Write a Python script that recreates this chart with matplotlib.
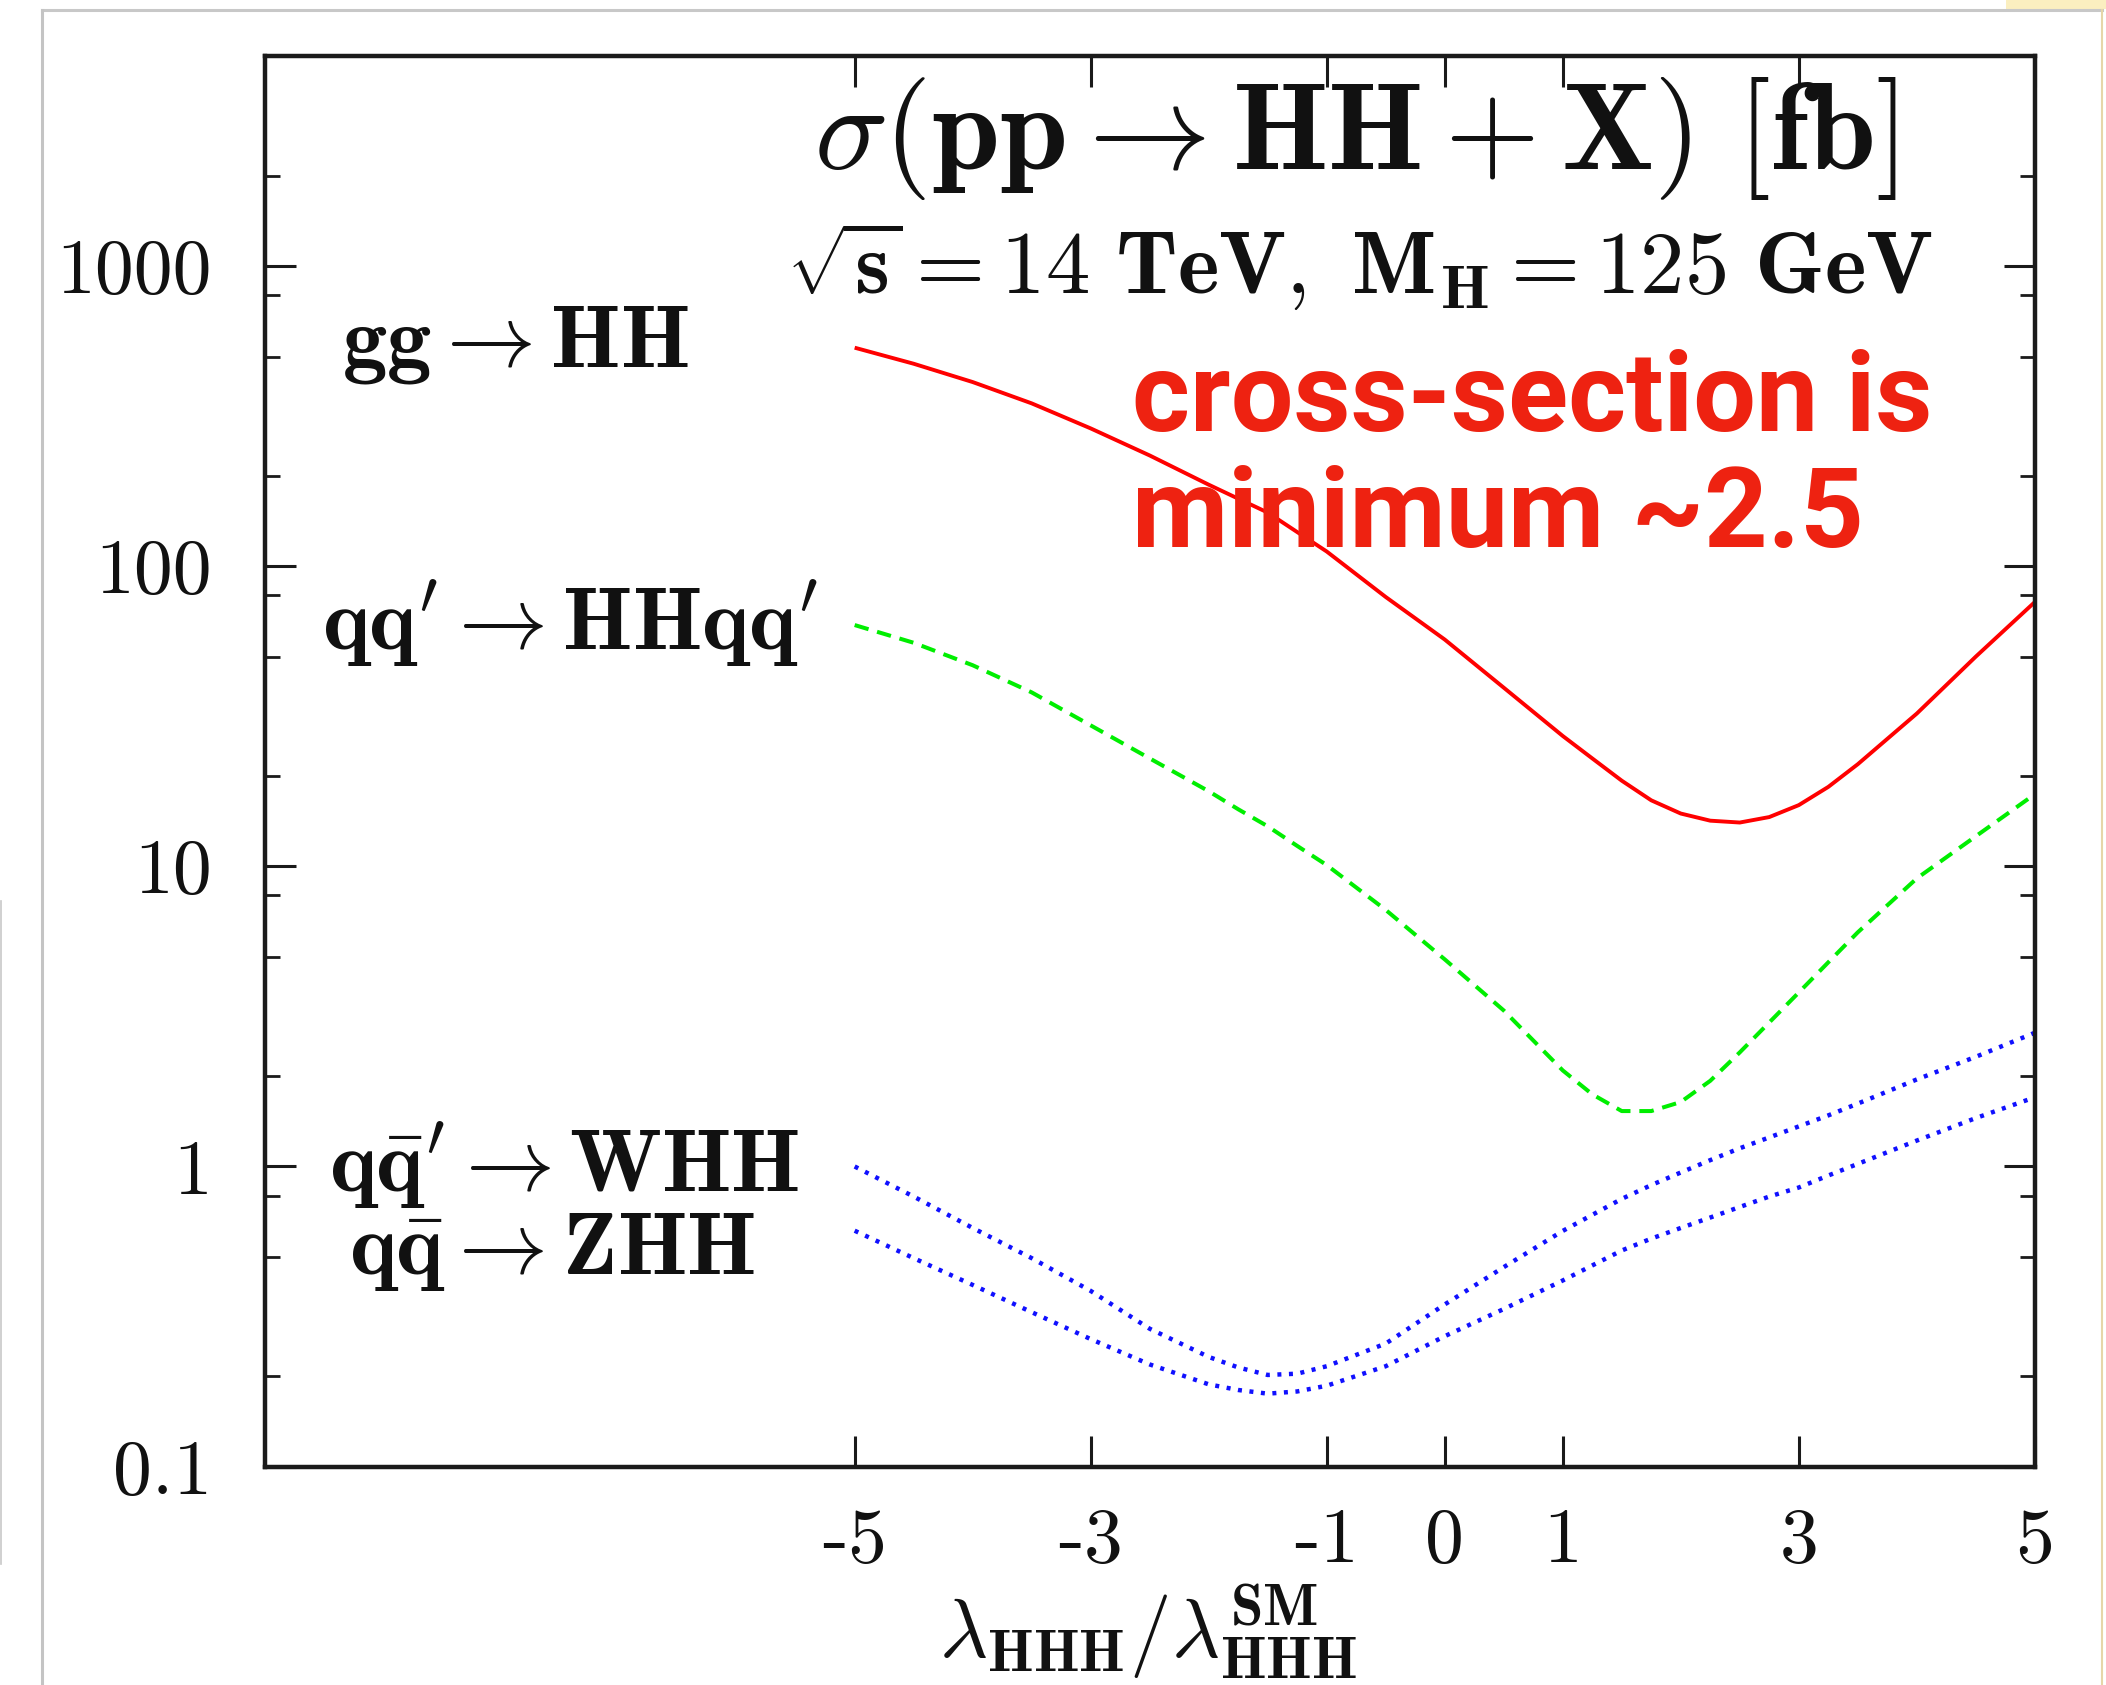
import matplotlib
matplotlib.use("Agg")
import matplotlib.pyplot as plt
from matplotlib.ticker import FixedLocator, NullFormatter
from matplotlib.lines import Line2D

plt.rcParams['mathtext.fontset'] = 'cm'

# ---- data ----
lam = [-5.0, -4.5, -4.0, -3.5, -3.0, -2.5, -2.0, -1.75, -1.5, -1.25, -1.0, -0.5, 0.0,
       0.5, 1.0, 1.25, 1.5, 1.75, 2.0, 2.25, 2.5, 2.75, 3.0, 3.25, 3.5, 4.0, 4.5, 5.0]
sigma_gg = [535, 473, 411, 349, 288, 234, 187, 168, 151, 130, 112, 79, 57,
            39.4, 27.2, 22.9, 19.3, 16.6, 15.0, 14.2, 14.0, 14.6, 16.0, 18.4, 21.9, 32.3, 50, 76]
sigma_vbf = [63.7, 55.6, 46.8, 38.0, 29.5, 22.9, 17.8, 15.5, 13.6, 11.7, 10.1, 7.16, 4.90,
             3.31, 2.09, 1.74, 1.53, 1.53, 1.64, 1.93, 2.40, 3.02, 3.80, 4.79, 6.03, 9.12, 12.6, 17.4]
sigma_whh = [1.0, 0.794, 0.624, 0.495, 0.385, 0.288, 0.232, 0.214, 0.202, 0.204, 0.216, 0.257, 0.347,
             0.462, 0.610, 0.69, 0.780, 0.867, 0.955, 1.05, 1.15, 1.25, 1.36, 1.48, 1.62, 1.95, 2.32, 2.79]
sigma_zhh = [0.611, 0.495, 0.403, 0.327, 0.266, 0.219, 0.188, 0.180, 0.175, 0.178, 0.186, 0.216, 0.272,
             0.335, 0.417, 0.468, 0.525, 0.575, 0.624, 0.676, 0.733, 0.794, 0.851, 0.933, 1.02, 1.22, 1.45, 1.70]

xticks = [-5, -3, -1, 0, 1, 3, 5]
xtick_labels = ['-5', '-3', '-1', '0', '1', '3', '5']
yticks = [0.1, 1, 10, 100, 1000]
ytick_labels = ['0.1', '1', '10', '100', '1000']

W, H = 2106, 1685
fig = plt.figure(figsize=(W / 100, H / 100), dpi=100)
fig.patch.set_facecolor('white')


def fx(x):
    return x / W


def fy(y):
    return 1 - y / H


# screenshot frame artefacts
fig.add_artist(Line2D([fx(42), fx(2102)], [fy(10), fy(10)], color='#c8c8c8', lw=2.2))
fig.add_artist(Line2D([fx(42), fx(42)], [fy(10), fy(1685)], color='#c4c4c4', lw=2.2))
fig.add_artist(Line2D([fx(2102), fx(2102)], [fy(10), fy(1685)], color='#e6d6a8', lw=1.5))
fig.add_artist(Line2D([fx(1), fx(1)], [fy(901), fy(1564)], color='#c8c8c8', lw=1.2))
fig.patches.append(plt.Rectangle((fx(2006), fy(9)), fx(100), 9 / H, transform=fig.transFigure,
                                 facecolor='#fbefc0', edgecolor='none', zorder=0))

ax = fig.add_axes([264.6 / W, 1 - 1466.6 / H, (2034.8 - 264.6) / W, (1466.6 - 56.4) / H])
ax.set_yscale('log')
ax.set_xlim(-10, 5)
ax.set_ylim(0.1, 5000)

ax.plot(lam, sigma_gg, color='#ff0000', lw=2.8, solid_capstyle='butt', solid_joinstyle='round')
ax.plot(lam, sigma_vbf, color='#00ee00', lw=2.9, dashes=(3.6, 2.2))
ax.plot(lam, sigma_whh, color='#1010ff', lw=3.2, linestyle=(0, (0.9, 1.7)))
ax.plot(lam, sigma_zhh, color='#1010ff', lw=3.2, linestyle=(0, (0.9, 1.7)))

for s in ax.spines.values():
    s.set_linewidth(3.2)
    s.set_color('#1a1a1a')

ax.xaxis.set_major_locator(FixedLocator(xticks))
ax.set_xticklabels(xtick_labels)
ax.yaxis.set_major_locator(FixedLocator(yticks))
ax.set_yticklabels(ytick_labels)
minor = []
for d in [0.1, 1, 10, 100, 1000]:
    for m in [2, 5, 8]:
        v = d * m
        if v < 5000:
            minor.append(v)
ax.yaxis.set_minor_locator(FixedLocator(minor))
ax.yaxis.set_minor_formatter(NullFormatter())
ax.xaxis.set_minor_locator(FixedLocator([]))

ax.tick_params(axis='both', which='major', direction='in', length=22, width=2.2,
               top=True, right=True, colors='#1a1a1a')
ax.tick_params(axis='y', which='minor', direction='in', length=11, width=2.0,
               right=True, colors='#1a1a1a')
ax.tick_params(axis='x', which='major', pad=30)
ax.tick_params(axis='y', which='major', pad=38)
for lbl in ax.get_xticklabels() + ax.get_yticklabels():
    lbl.set_fontfamily('cmr10')
    lbl.set_fontsize(56)
    lbl.set_color('#111111')


def ftext(x, y, s, **kw):
    fig.text(fx(x), fy(y), s, **kw)


# x-axis label
ftext(1148, 1632, r'$\lambda_{\mathbf{HHH}}/\lambda^{\mathbf{SM}}_{\mathbf{HHH}}$', fontsize=60,
      ha='center', va='center', color='#111111')

ftext(1356, 138, r'$\sigma(\mathbf{pp}\rightarrow\mathbf{HH}+\mathbf{X})\ [\mathbf{fb}]$',
      fontsize=88, ha='center', va='center', color='#111111')
ftext(1360, 266, r'$\sqrt{\mathbf{s}}=\mathbf{14\ TeV,\ M_H}=\mathbf{125\ GeV}$',
      fontsize=64, ha='center', va='center', color='#111111')
ftext(342, 342, r'$\mathbf{gg}\rightarrow\mathbf{HH}$', fontsize=64, ha='left', va='center',
      color='#111111')
ftext(322, 624, r"$\mathbf{qq}^{\prime}\rightarrow\mathbf{HHqq}^{\prime}$", fontsize=64,
      ha='left', va='center', color='#111111')
ftext(329, 1166, r"$\mathbf{q\bar{q}}^{\prime}\rightarrow\mathbf{WHH}$", fontsize=64,
      ha='left', va='center', color='#111111')
ftext(349, 1249, r"$\mathbf{q\bar{q}}\rightarrow\mathbf{ZHH}$", fontsize=64,
      ha='left', va='center', color='#111111')

red = '#ee2211'
ftext(1132, 400, 'cross-section is', fontsize=80, ha='left', va='center', color=red,
      family='Roboto', fontweight='bold')
ftext(1132, 517, 'minimum ~2.5', fontsize=80, ha='left', va='center', color=red,
      family='Roboto', fontweight='bold')

fig.savefig('out.png', dpi=100)
